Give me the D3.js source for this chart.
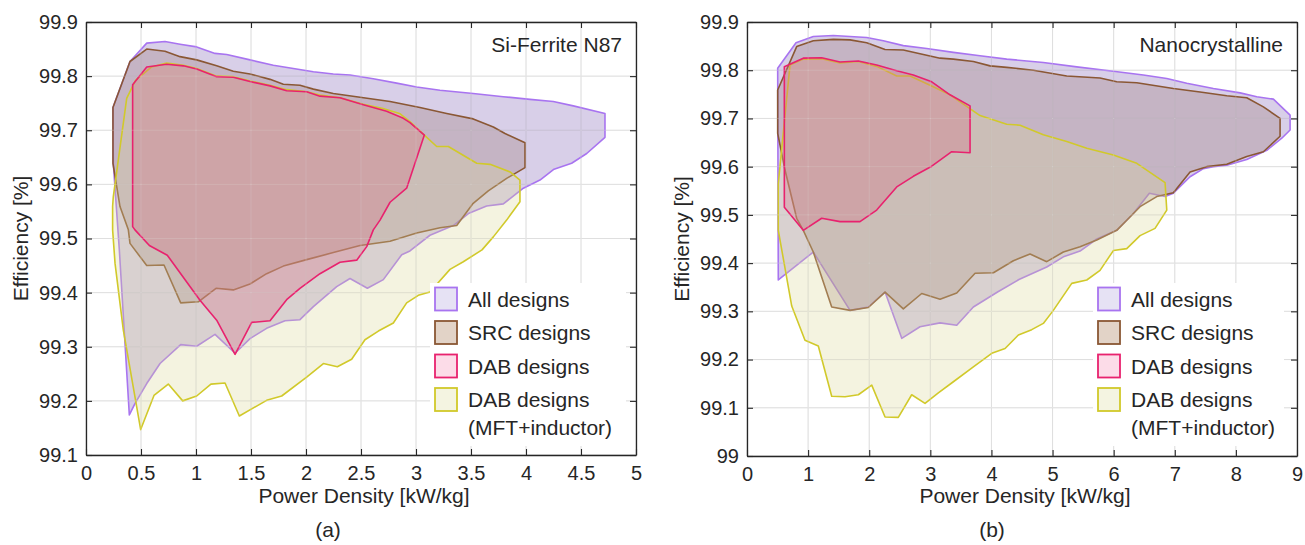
<!DOCTYPE html>
<html>
<head>
<meta charset="utf-8">
<script src="https://cdn.jsdelivr.net/npm/d3@7"></script>
<style>
  html, body { margin: 0; padding: 0; background: #ffffff; }
  svg { display: block; }
  text { font-family: "Liberation Sans", Arial, Helvetica, sans-serif; fill: #262626; }
</style>
</head>
<body>
<svg id="chart" width="1305" height="545"></svg>
<script>
// ---------------- DATA ----------------
const seriesNames = ["All designs", "SRC designs", "DAB designs", "DAB designs"];
const seriesSubNames = ["", "", "", "(MFT+inductor)"];
const panelTitles = ["Si-Ferrite N87", "Nanocrystalline"];
const panelTags = ["(a)", "(b)"];
const xAxisTitle = "Power Density [kW/kg]";
const yAxisTitle = "Efficiency [%]";

const xTicksA = [0, 0.5, 1, 1.5, 2, 2.5, 3, 3.5, 4, 4.5, 5];
const xTickLabelsA = ["0", "0.5", "1", "1.5", "2", "2.5", "3", "3.5", "4", "4.5", "5"];
const yTicksA = [99.1, 99.2, 99.3, 99.4, 99.5, 99.6, 99.7, 99.8, 99.9];
const yTickLabelsA = ["99.1", "99.2", "99.3", "99.4", "99.5", "99.6", "99.7", "99.8", "99.9"];

const xTicksB = [0, 1, 2, 3, 4, 5, 6, 7, 8, 9];
const xTickLabelsB = ["0", "1", "2", "3", "4", "5", "6", "7", "8", "9"];
const yTicksB = [99.0, 99.1, 99.2, 99.3, 99.4, 99.5, 99.6, 99.7, 99.8, 99.9];
const yTickLabelsB = ["99", "99.1", "99.2", "99.3", "99.4", "99.5", "99.6", "99.7", "99.8", "99.9"];

// (a) Si-Ferrite N87 — boundary polygons [power density kW/kg, efficiency %]
const allA = [[0.245,99.742],[0.40,99.827],[0.552,99.861],[0.718,99.864],[0.855,99.859],[1.006,99.854],[1.173,99.842],[1.279,99.840],[1.491,99.830],[1.703,99.820],[1.885,99.814],[2.067,99.808],[2.248,99.804],[2.40,99.802],[2.612,99.795],[2.824,99.787],[3.006,99.780],[3.218,99.774],[3.52,99.768],[3.794,99.762],[4.036,99.757],[4.248,99.753],[4.43,99.745],[4.718,99.731],[4.718,99.687],[4.552,99.657],[4.415,99.639],[4.255,99.628],[4.127,99.608],[3.976,99.593],[3.794,99.564],[3.642,99.560],[3.476,99.546],[3.339,99.524],[3.127,99.506],[2.945,99.477],[2.87,99.470],[2.703,99.424],[2.558,99.408],[2.40,99.426],[2.279,99.411],[2.067,99.374],[1.945,99.350],[1.809,99.348],[1.642,99.334],[1.491,99.315],[1.355,99.288],[1.173,99.323],[1.006,99.301],[0.861,99.304],[0.673,99.269],[0.552,99.232],[0.445,99.195],[0.394,99.174],[0.303,99.479],[0.248,99.639]];
const srcA = [[0.245,99.742],[0.40,99.827],[0.552,99.850],[0.718,99.846],[0.855,99.836],[1.006,99.830],[1.188,99.819],[1.339,99.809],[1.491,99.804],[1.673,99.794],[1.794,99.785],[1.945,99.783],[2.067,99.776],[2.248,99.768],[2.491,99.761],[2.764,99.753],[3.036,99.742],[3.279,99.731],[3.52,99.721],[3.703,99.706],[3.809,99.694],[3.991,99.677],[3.991,99.631],[3.824,99.611],[3.657,99.588],[3.52,99.565],[3.37,99.524],[3.218,99.520],[3.006,99.510],[2.764,99.495],[2.491,99.487],[2.248,99.474],[2.006,99.461],[1.794,99.449],[1.642,99.435],[1.491,99.416],[1.339,99.405],[1.182,99.408],[1.021,99.383],[0.861,99.381],[0.709,99.451],[0.552,99.450],[0.40,99.491],[0.385,99.516],[0.309,99.559],[0.245,99.639]];
const dabA = [[0.424,99.784],[0.552,99.817],[0.733,99.822],[0.885,99.819],[1.006,99.813],[1.188,99.799],[1.339,99.798],[1.491,99.790],[1.673,99.782],[1.824,99.773],[2.006,99.771],[2.127,99.763],[2.309,99.760],[2.521,99.747],[2.733,99.735],[2.885,99.722],[2.945,99.714],[3.076,99.691],[2.915,99.593],[2.764,99.567],[2.673,99.534],[2.612,99.516],[2.552,99.485],[2.461,99.460],[2.309,99.456],[2.127,99.435],[1.945,99.408],[1.824,99.387],[1.673,99.348],[1.506,99.345],[1.355,99.286],[1.188,99.349],[1.036,99.386],[0.739,99.469],[0.576,99.487],[0.445,99.516],[0.424,99.522]];
const mftA = [[0.37,99.759],[0.45,99.792],[0.597,99.817],[0.733,99.824],[0.885,99.820],[1.006,99.814],[1.188,99.800],[1.339,99.799],[1.491,99.791],[1.673,99.783],[1.824,99.775],[2.006,99.771],[2.127,99.765],[2.309,99.760],[2.521,99.748],[2.70,99.740],[2.85,99.731],[2.945,99.716],[3.076,99.691],[3.188,99.670],[3.294,99.670],[3.552,99.639],[3.673,99.637],[3.855,99.623],[3.945,99.608],[3.945,99.568],[3.824,99.534],[3.703,99.503],[3.60,99.479],[3.43,99.457],[3.309,99.443],[3.127,99.401],[3.021,99.395],[2.915,99.381],[2.794,99.344],[2.658,99.329],[2.536,99.313],[2.415,99.277],[2.285,99.263],[2.158,99.269],[2.006,99.244],[1.779,99.209],[1.642,99.201],[1.394,99.172],[1.264,99.233],[1.136,99.231],[1.006,99.209],[0.879,99.200],[0.748,99.231],[0.618,99.210],[0.497,99.147],[0.339,99.331],[0.264,99.454],[0.242,99.516],[0.242,99.559],[0.248,99.577]];

// (b) Nanocrystalline
const allB = [[0.502,99.804],[0.802,99.857],[1.085,99.870],[1.413,99.872],[1.959,99.868],[2.231,99.861],[2.558,99.851],[2.941,99.845],[3.377,99.837],[3.813,99.830],[4.25,99.823],[4.849,99.816],[5.396,99.807],[5.995,99.798],[6.486,99.790],[6.869,99.783],[7.196,99.773],[7.632,99.762],[8.069,99.753],[8.342,99.745],[8.614,99.740],[8.887,99.707],[8.887,99.676],[8.751,99.659],[8.506,99.634],[8.178,99.615],[7.851,99.603],[7.632,99.600],[7.468,99.596],[7.25,99.579],[6.977,99.545],[6.841,99.538],[6.584,99.545],[6.322,99.503],[6.05,99.468],[5.723,99.450],[5.45,99.425],[5.177,99.413],[4.905,99.392],[4.45,99.366],[4.10,99.340],[3.704,99.309],[3.432,99.271],[3.159,99.276],[2.831,99.268],[2.532,99.244],[2.259,99.340],[1.985,99.309],[1.686,99.302],[1.085,99.423],[0.512,99.365]];
const srcB = [[0.502,99.759],[0.813,99.849],[1.085,99.861],[1.413,99.864],[1.686,99.863],[1.959,99.857],[2.259,99.843],[2.558,99.842],[2.831,99.834],[3.159,99.825],[3.377,99.823],[3.704,99.818],[3.977,99.809],[4.25,99.806],[4.686,99.800],[5.232,99.788],[5.777,99.784],[6.05,99.776],[6.378,99.774],[6.977,99.762],[7.414,99.755],[7.851,99.747],[8.178,99.743],[8.45,99.724],[8.723,99.700],[8.723,99.663],[8.45,99.631],[8.178,99.621],[7.851,99.605],[7.523,99.600],[7.25,99.589],[6.977,99.546],[6.705,99.538],[6.432,99.517],[6.214,99.489],[6.05,99.468],[5.723,99.448],[5.45,99.434],[5.177,99.423],[4.905,99.403],[4.632,99.419],[4.359,99.405],[4.032,99.380],[3.732,99.379],[3.432,99.338],[3.159,99.325],[2.859,99.337],[2.558,99.305],[2.259,99.340],[1.985,99.308],[1.686,99.302],[1.386,99.309],[1.085,99.423],[0.921,99.468],[0.813,99.493],[0.622,99.593],[0.502,99.669]];
const dabB = [[0.611,99.807],[0.921,99.825],[1.222,99.826],[1.522,99.817],[1.822,99.819],[2.122,99.811],[2.45,99.799],[2.722,99.790],[3.023,99.776],[3.322,99.749],[3.65,99.726],[3.65,99.629],[3.35,99.631],[3.023,99.601],[2.722,99.580],[2.45,99.558],[2.122,99.510],[1.849,99.486],[1.522,99.486],[1.222,99.493],[0.921,99.468],[0.611,99.516]];
const mftB = [[0.512,99.565],[0.704,99.811],[0.921,99.823],[1.222,99.824],[1.522,99.815],[1.822,99.818],[2.122,99.808],[2.45,99.788],[2.668,99.788],[2.995,99.769],[3.322,99.749],[3.813,99.706],[4.25,99.688],[4.468,99.686],[4.849,99.666],[5.232,99.652],[5.56,99.638],[5.995,99.624],[6.378,99.607],[6.841,99.567],[6.869,99.510],[6.677,99.472],[6.432,99.457],[6.214,99.430],[5.995,99.426],[5.777,99.385],[5.56,99.365],[5.314,99.358],[5.013,99.302],[4.849,99.275],[4.659,99.262],[4.441,99.251],[4.223,99.223],[4.005,99.213],[3.704,99.185],[3.377,99.154],[3.131,99.131],[2.913,99.109],[2.695,99.127],[2.476,99.080],[2.259,99.081],[2.041,99.147],[1.822,99.127],[1.604,99.123],[1.386,99.124],[1.167,99.228],[0.949,99.240],[0.732,99.311],[0.512,99.468]];

// ---------------- STYLE ----------------
const strokeColors = ["#a874f0", "#8a5734", "#e8226e", "#d1c92a"];
const fillColors   = ["rgb(125,95,178)", "rgb(153,120,112)", "rgb(216,107,133)", "rgb(218,215,152)"];
const legendFills  = ["#e6e2f4", "#e2d3c7", "#fcdce8", "#f4f4e1"];
const fillOpacity = 0.3;
const drawOrder = [0, 1, 3, 2]; // all, SRC, MFT+inductor, DAB on top

const svg = d3.select("#chart");

function drawPanel(cfg) {
  const x = d3.scaleLinear().domain(cfg.xDomain).range([cfg.left, cfg.right]);
  const y = d3.scaleLinear().domain(cfg.yDomain).range([cfg.bottom, cfg.top]);
  const g = svg.append("g");

  // grid under fills
  const gridUnder = g.append("g");
  gridUnder.selectAll("line.gx").data(cfg.xTicks).enter().append("line")
    .attr("x1", d => x(d)).attr("x2", d => x(d)).attr("y1", cfg.top).attr("y2", cfg.bottom)
    .attr("stroke", "#d6d6d6").attr("stroke-width", 1);
  gridUnder.selectAll("line.gy").data(cfg.yTicks).enter().append("line")
    .attr("y1", d => y(d)).attr("y2", d => y(d)).attr("x1", cfg.left).attr("x2", cfg.right)
    .attr("stroke", "#d6d6d6").attr("stroke-width", 1);

  // patches
  const line = d3.line().x(d => x(d[0])).y(d => y(d[1])).curve(d3.curveLinearClosed);
  drawOrder.forEach(i => {
    g.append("path").attr("d", line(cfg.series[i]))
      .attr("fill", fillColors[i]).attr("fill-opacity", fillOpacity)
      .attr("stroke", strokeColors[i]).attr("stroke-width", 1.6)
      .attr("stroke-linejoin", "round");
  });

  // grid on top (light)
  const gridTop = g.append("g");
  gridTop.selectAll("line.gx").data(cfg.xTicks).enter().append("line")
    .attr("x1", d => x(d)).attr("x2", d => x(d)).attr("y1", cfg.top).attr("y2", cfg.bottom)
    .attr("stroke", "rgba(255,255,255,0.22)").attr("stroke-width", 1);
  gridTop.selectAll("line.gy").data(cfg.yTicks).enter().append("line")
    .attr("y1", d => y(d)).attr("y2", d => y(d)).attr("x1", cfg.left).attr("x2", cfg.right)
    .attr("stroke", "rgba(255,255,255,0.22)").attr("stroke-width", 1);

  // axes (ticks inward on all four sides)
  const fmtX = (d, i) => cfg.xLabels[i];
  const fmtY = (d, i) => cfg.yLabels[i];
  const axB = g.append("g").attr("transform", `translate(0,${cfg.bottom})`)
    .call(d3.axisBottom(x).tickValues(cfg.xTicks).tickFormat(fmtX).tickSizeInner(-6).tickSizeOuter(0).tickPadding(11));
  const axT = g.append("g").attr("transform", `translate(0,${cfg.top})`)
    .call(d3.axisTop(x).tickValues(cfg.xTicks).tickFormat("").tickSizeInner(-6).tickSizeOuter(0));
  const axL = g.append("g").attr("transform", `translate(${cfg.left},0)`)
    .call(d3.axisLeft(y).tickValues(cfg.yTicks).tickFormat(fmtY).tickSizeInner(-6).tickSizeOuter(0).tickPadding(8));
  const axR = g.append("g").attr("transform", `translate(${cfg.right},0)`)
    .call(d3.axisRight(y).tickValues(cfg.yTicks).tickFormat("").tickSizeInner(-6).tickSizeOuter(0));
  [axB, axT, axL, axR].forEach(a => {
    a.select(".domain").attr("stroke", "#262626").attr("stroke-width", 1.3);
    a.selectAll(".tick line").attr("stroke", "#262626").attr("stroke-width", 1.1);
    a.selectAll(".tick text").style("font-size", "20px").attr("fill", "#262626")
      .style("font-family", "'Liberation Sans', Arial, Helvetica, sans-serif");
  });

  // panel title
  g.append("text").attr("x", cfg.right - 14).attr("y", 52).attr("text-anchor", "end")
    .style("font-size", "21px").text(cfg.title);

  // axis titles
  g.append("text").attr("x", (cfg.left + cfg.right) / 2 + 3).attr("y", 503).attr("text-anchor", "middle")
    .style("font-size", "21px").text(xAxisTitle);
  g.append("text").attr("transform", `translate(${cfg.left - 58},${(cfg.top + cfg.bottom) / 2}) rotate(-90)`)
    .attr("text-anchor", "middle").style("font-size", "21px").text(yAxisTitle);
  g.append("text").attr("x", cfg.tagX).attr("y", 537).attr("text-anchor", "middle")
    .style("font-size", "21px").text(cfg.tag);

  // legend
  const lg = g.append("g").attr("transform", `translate(${cfg.legX},${cfg.legY})`);
  lg.append("rect").attr("x", 0).attr("y", 0).attr("width", cfg.legW).attr("height", 163).attr("fill", "#ffffff");
  seriesNames.forEach((name, i) => {
    const ry = 4.5 + i * 33.5;
    lg.append("rect").attr("x", 5).attr("y", ry).attr("width", 22).attr("height", 23)
      .attr("fill", legendFills[i]).attr("stroke", strokeColors[i]).attr("stroke-width", 1.8);
    lg.append("text").attr("x", 38).attr("y", ry + 19).style("font-size", "21px").text(name);
    if (seriesSubNames[i]) {
      lg.append("text").attr("x", 38).attr("y", ry + 47).style("font-size", "21px").text(seriesSubNames[i]);
    }
  });
}

drawPanel({
  left: 86, right: 636, top: 22, bottom: 455,
  xDomain: [0, 5], yDomain: [99.1, 99.9],
  xTicks: xTicksA, xLabels: xTickLabelsA, yTicks: yTicksA, yLabels: yTickLabelsA,
  series: [allA, srcA, dabA, mftA],
  title: panelTitles[0], tag: panelTags[0], tagX: 328,
  legX: 430, legY: 283, legW: 196
});
drawPanel({
  left: 747, right: 1297, top: 22, bottom: 456,
  xDomain: [0, 9], yDomain: [99.0, 99.9],
  xTicks: xTicksB, xLabels: xTickLabelsB, yTicks: yTicksB, yLabels: yTickLabelsB,
  series: [allB, srcB, dabB, mftB],
  title: panelTitles[1], tag: panelTags[1], tagX: 992,
  legX: 1093, legY: 283, legW: 191
});
</script>
</body>
</html>
